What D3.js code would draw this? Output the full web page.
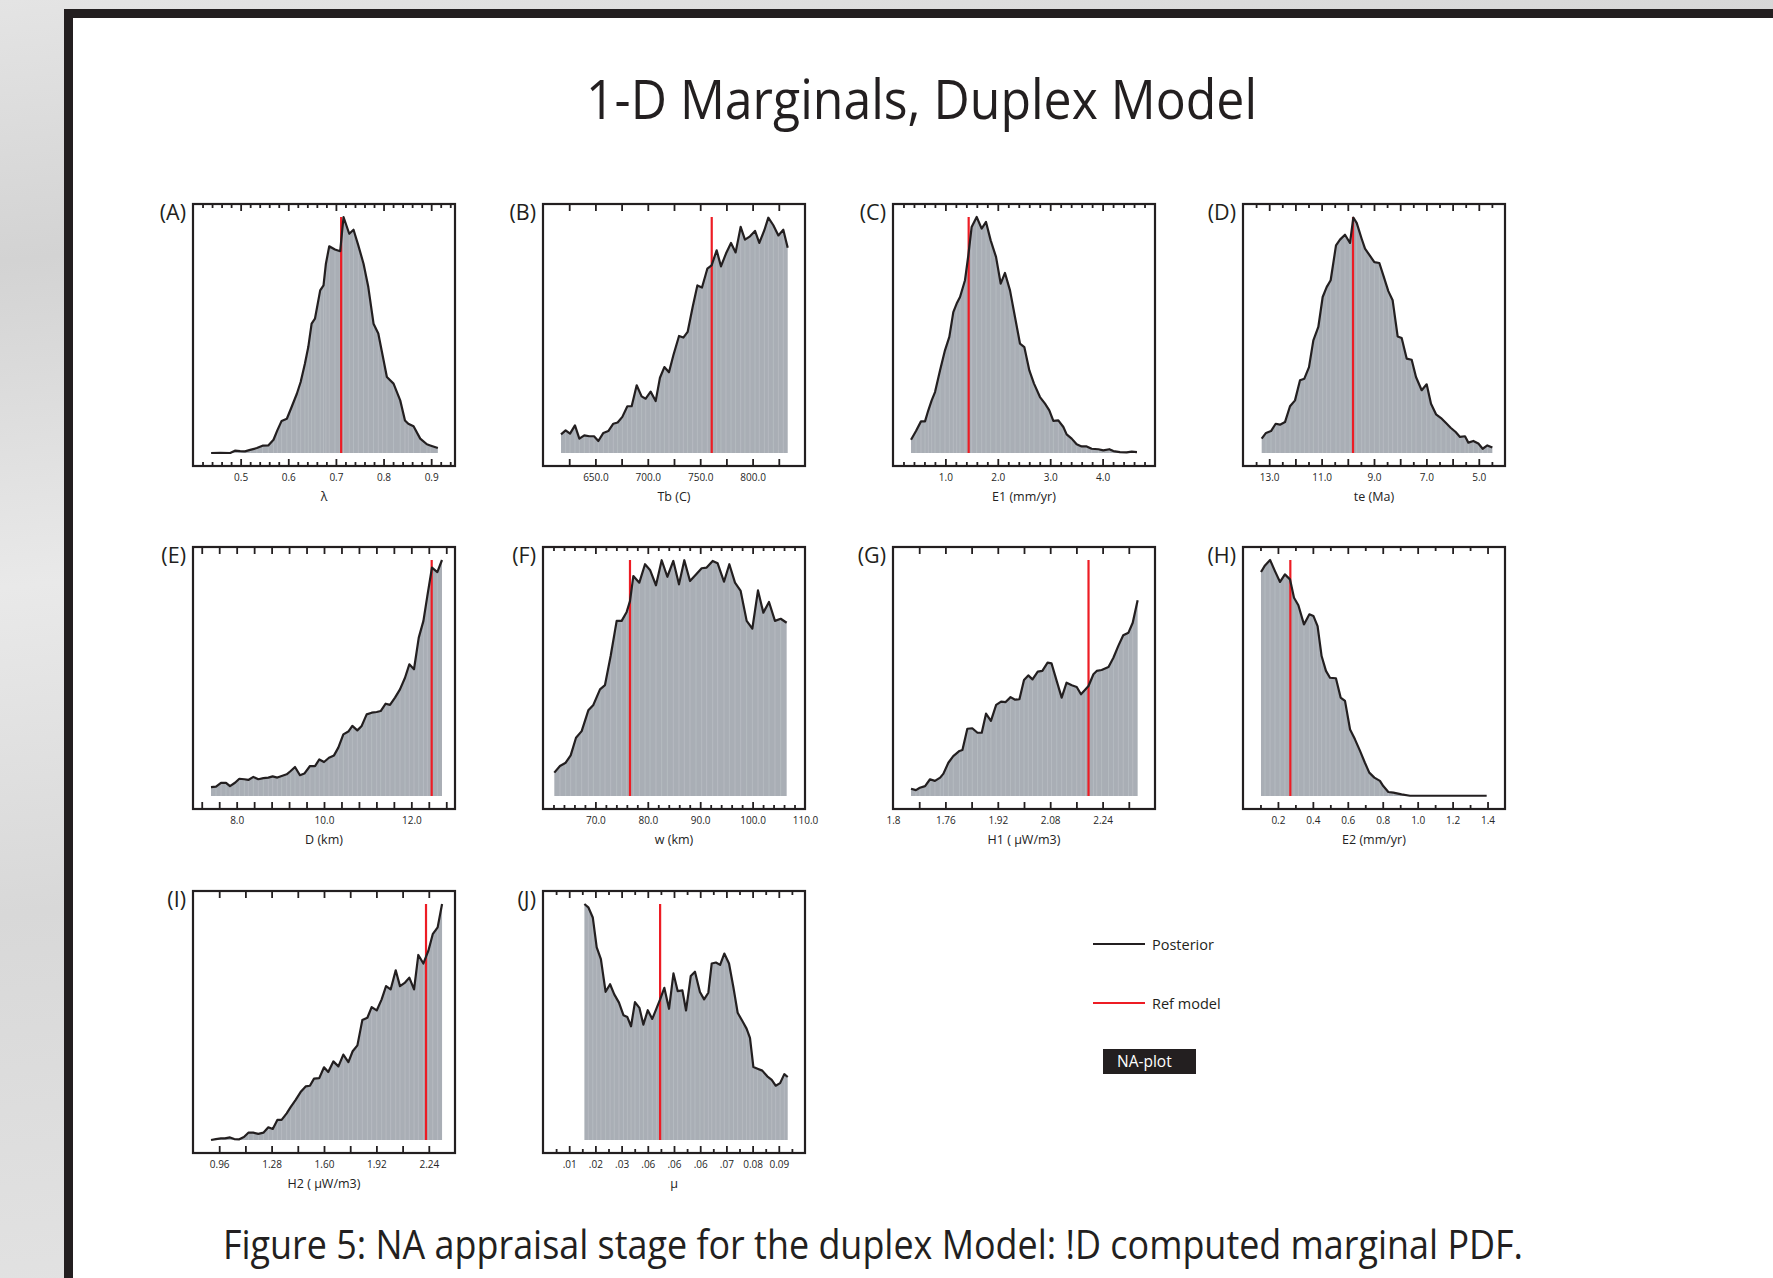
<!DOCTYPE html>
<html>
<head>
<meta charset="utf-8">
<script src="https://cdn.jsdelivr.net/npm/d3@7"></script>
<style>
body { margin: 0; background: #fff; }
svg { display: block; }
text { font-family: "Open Sans", sans-serif; }
</style>
</head>
<body>
<div id="wrapper"></div>
<script>
// posterior marginals, [parameter value, normalised density]
const postA = [[0.438,0.000],[0.457,0.001],[0.478,0.000],[0.488,0.010],[0.499,0.008],[0.509,0.007],[0.520,0.013],[0.534,0.021],[0.546,0.031],[0.558,0.032],[0.569,0.056],[0.577,0.096],[0.586,0.136],[0.597,0.145],[0.607,0.195],[0.618,0.251],[0.626,0.301],[0.635,0.379],[0.642,0.449],[0.649,0.548],[0.656,0.569],[0.667,0.689],[0.674,0.710],[0.679,0.802],[0.686,0.876],[0.698,0.862],[0.709,0.855],[0.716,1.000],[0.728,0.929],[0.737,0.946],[0.747,0.880],[0.758,0.802],[0.768,0.703],[0.779,0.548],[0.789,0.506],[0.798,0.414],[0.807,0.322],[0.821,0.294],[0.835,0.223],[0.845,0.138],[0.852,0.124],[0.863,0.113],[0.877,0.061],[0.891,0.037],[0.898,0.032],[0.914,0.021]];
const postB = [[617.2,0.079],[621.6,0.096],[625.8,0.082],[630.5,0.117],[634.7,0.061],[639.4,0.075],[644.2,0.071],[648.7,0.071],[652.8,0.051],[657.6,0.085],[662.3,0.093],[667.1,0.124],[671.2,0.129],[675.7,0.153],[680.5,0.198],[684.6,0.198],[689.4,0.287],[694.1,0.240],[698.0,0.230],[702.7,0.260],[707.5,0.220],[711.6,0.319],[715.8,0.364],[720.2,0.342],[724.4,0.414],[729.8,0.496],[733.9,0.489],[738.0,0.513],[742.8,0.619],[747.3,0.710],[751.7,0.701],[756.8,0.781],[760.9,0.795],[765.7,0.859],[769.8,0.791],[774.6,0.845],[779.4,0.890],[783.8,0.850],[788.6,0.958],[792.7,0.904],[797.5,0.918],[802.3,0.941],[806.4,0.890],[811.2,0.944],[815.0,0.997],[819.8,0.965],[824.6,0.922],[829.3,0.946],[833.5,0.870]];
const postC = [[0.344,0.056],[0.439,0.093],[0.534,0.134],[0.611,0.134],[0.674,0.181],[0.738,0.223],[0.802,0.258],[0.897,0.350],[0.992,0.435],[1.075,0.492],[1.151,0.597],[1.215,0.633],[1.279,0.661],[1.374,0.732],[1.438,0.838],[1.501,0.958],[1.597,1.000],[1.692,0.951],[1.775,0.979],[1.864,0.901],[1.966,0.831],[2.055,0.718],[2.137,0.763],[2.233,0.689],[2.328,0.576],[2.424,0.463],[2.506,0.449],[2.602,0.350],[2.691,0.294],[2.805,0.237],[2.901,0.209],[2.983,0.181],[3.060,0.136],[3.155,0.138],[3.251,0.110],[3.314,0.079],[3.410,0.061],[3.505,0.037],[3.600,0.028],[3.696,0.028],[3.791,0.018],[3.919,0.016],[4.014,0.011],[4.128,0.016],[4.205,0.008],[4.332,0.004],[4.459,0.003],[4.555,0.006],[4.656,0.004]];
const postD = [[13.287,0.061],[13.122,0.085],[12.931,0.093],[12.753,0.124],[12.588,0.120],[12.397,0.131],[12.206,0.198],[12.015,0.223],[11.824,0.308],[11.659,0.315],[11.481,0.364],[11.315,0.477],[11.125,0.534],[10.959,0.661],[10.807,0.703],[10.654,0.732],[10.450,0.880],[10.298,0.904],[10.107,0.925],[9.916,0.890],[9.789,0.997],[9.661,0.975],[9.471,0.908],[9.343,0.866],[9.178,0.840],[8.987,0.809],[8.796,0.805],[8.644,0.753],[8.453,0.686],[8.288,0.647],[8.097,0.494],[7.944,0.487],[7.753,0.400],[7.562,0.395],[7.397,0.322],[7.180,0.266],[6.990,0.291],[6.824,0.209],[6.633,0.164],[6.442,0.148],[6.251,0.127],[6.074,0.107],[5.883,0.089],[5.717,0.068],[5.527,0.071],[5.399,0.044],[5.208,0.051],[5.017,0.040],[4.852,0.018],[4.674,0.032],[4.483,0.023]];
const postE = [[7.412,0.038],[7.527,0.040],[7.641,0.056],[7.756,0.056],[7.847,0.042],[7.962,0.056],[8.061,0.073],[8.176,0.071],[8.267,0.068],[8.382,0.081],[8.496,0.071],[8.611,0.076],[8.725,0.078],[8.824,0.083],[8.931,0.078],[9.031,0.085],[9.145,0.092],[9.237,0.106],[9.336,0.123],[9.450,0.088],[9.550,0.095],[9.679,0.127],[9.794,0.127],[9.893,0.155],[10.000,0.144],[10.114,0.162],[10.229,0.172],[10.328,0.205],[10.443,0.261],[10.557,0.273],[10.649,0.297],[10.763,0.278],[10.863,0.297],[10.977,0.346],[11.092,0.353],[11.206,0.356],[11.298,0.360],[11.412,0.391],[11.511,0.386],[11.626,0.417],[11.740,0.452],[11.855,0.501],[11.954,0.558],[12.061,0.537],[12.170,0.671],[12.277,0.742],[12.366,0.847],[12.473,0.968],[12.595,0.949],[12.702,1.000]];
const postF = [[62.16,0.099],[63.24,0.127],[64.33,0.141],[65.28,0.172],[66.30,0.247],[67.38,0.275],[68.65,0.363],[69.61,0.386],[70.88,0.452],[71.83,0.470],[72.91,0.593],[74.06,0.742],[75.01,0.742],[75.97,0.780],[76.60,0.826],[77.24,0.932],[78.38,0.904],[79.47,0.982],[80.42,0.958],[81.56,0.893],[82.65,0.999],[83.73,0.929],[84.87,0.996],[85.95,0.897],[86.97,0.999],[88.05,0.911],[89.20,0.939],[90.28,0.965],[91.23,0.968],[92.38,0.996],[93.33,0.986],[94.54,0.908],[95.56,0.982],[96.64,0.904],[97.72,0.869],[98.87,0.742],[99.95,0.709],[101.03,0.871],[102.05,0.777],[103.13,0.822],[104.27,0.742],[105.36,0.751],[106.50,0.734]];
const postG = [[1.655,0.031],[1.670,0.025],[1.682,0.035],[1.698,0.042],[1.713,0.071],[1.728,0.064],[1.744,0.078],[1.754,0.095],[1.769,0.141],[1.784,0.169],[1.803,0.191],[1.812,0.195],[1.827,0.285],[1.842,0.287],[1.858,0.268],[1.871,0.268],[1.884,0.349],[1.899,0.318],[1.915,0.386],[1.930,0.400],[1.944,0.398],[1.959,0.419],[1.973,0.408],[1.986,0.410],[2.000,0.492],[2.013,0.511],[2.026,0.494],[2.042,0.527],[2.056,0.530],[2.072,0.565],[2.084,0.562],[2.100,0.487],[2.115,0.417],[2.130,0.480],[2.146,0.469],[2.161,0.462],[2.174,0.431],[2.188,0.452],[2.197,0.466],[2.212,0.516],[2.222,0.530],[2.237,0.534],[2.258,0.547],[2.273,0.586],[2.288,0.636],[2.303,0.681],[2.319,0.692],[2.332,0.734],[2.347,0.829]];
const postH = [[0.103,0.949],[0.126,0.977],[0.155,1.000],[0.183,0.953],[0.212,0.907],[0.240,0.939],[0.269,0.918],[0.292,0.840],[0.317,0.808],[0.349,0.727],[0.380,0.770],[0.403,0.763],[0.427,0.720],[0.450,0.593],[0.475,0.530],[0.498,0.501],[0.532,0.499],[0.559,0.417],[0.584,0.403],[0.613,0.282],[0.641,0.240],[0.670,0.191],[0.698,0.141],[0.723,0.099],[0.752,0.078],[0.784,0.064],[0.803,0.042],[0.832,0.017],[0.861,0.014],[0.908,0.007],[0.956,0.001],[1.052,0.001],[1.147,0.001],[1.242,0.001],[1.338,0.001],[1.395,0.001]];
const postI = [[0.910,0.000],[0.940,0.004],[0.971,0.007],[0.995,0.007],[1.026,0.011],[1.052,0.004],[1.083,0.003],[1.111,0.013],[1.138,0.031],[1.168,0.031],[1.199,0.026],[1.230,0.031],[1.260,0.054],[1.287,0.047],[1.315,0.085],[1.341,0.085],[1.372,0.113],[1.396,0.139],[1.427,0.170],[1.457,0.203],[1.488,0.227],[1.514,0.230],[1.539,0.260],[1.571,0.262],[1.600,0.308],[1.626,0.288],[1.657,0.333],[1.688,0.312],[1.718,0.362],[1.749,0.330],[1.775,0.376],[1.804,0.401],[1.834,0.508],[1.865,0.518],[1.891,0.563],[1.922,0.549],[1.952,0.596],[1.979,0.652],[2.007,0.638],[2.038,0.719],[2.064,0.652],[2.095,0.667],[2.121,0.688],[2.150,0.638],[2.176,0.784],[2.207,0.748],[2.237,0.801],[2.264,0.872],[2.294,0.901],[2.321,1.000]];
const postJ = [[0.0158,1.000],[0.0173,0.986],[0.0190,0.943],[0.0205,0.816],[0.0221,0.766],[0.0239,0.628],[0.0256,0.660],[0.0272,0.617],[0.0290,0.582],[0.0307,0.529],[0.0322,0.521],[0.0336,0.482],[0.0351,0.584],[0.0368,0.560],[0.0383,0.489],[0.0400,0.550],[0.0417,0.513],[0.0434,0.560],[0.0447,0.596],[0.0463,0.645],[0.0481,0.556],[0.0498,0.706],[0.0514,0.631],[0.0532,0.634],[0.0546,0.549],[0.0564,0.695],[0.0580,0.713],[0.0599,0.627],[0.0615,0.596],[0.0631,0.624],[0.0644,0.748],[0.0660,0.752],[0.0676,0.742],[0.0692,0.790],[0.0710,0.748],[0.0727,0.645],[0.0743,0.539],[0.0761,0.504],[0.0777,0.472],[0.0790,0.433],[0.0803,0.309],[0.0819,0.302],[0.0837,0.294],[0.0856,0.270],[0.0873,0.255],[0.0888,0.230],[0.0905,0.241],[0.0921,0.279],[0.0934,0.267]];

// reference model values (red lines)
const refModel = [0.711, 761, 1.444, 9.80, 12.466, 76.6, 2.197, 0.271, 2.223, 0.0447];

const panelNames = ["(A)", "(B)", "(C)", "(D)", "(E)", "(F)", "(G)", "(H)", "(I)", "(J)"];
const axisTitles = ["λ", "Tb (C)", "E1 (mm/yr)", "te (Ma)", "D (km)", "w (km)", "H1 ( µW/m3)", "E2 (mm/yr)", "H2 ( µW/m3)", "µ"];

// tick labels, [value, text]
const labelsA = [[0.5, "0.5"], [0.6, "0.6"], [0.7, "0.7"], [0.8, "0.8"], [0.9, "0.9"]];
const labelsB = [[650, "650.0"], [700, "700.0"], [750, "750.0"], [800, "800.0"]];
const labelsC = [[1, "1.0"], [2, "2.0"], [3, "3.0"], [4, "4.0"]];
const labelsD = [[13, "13.0"], [11, "11.0"], [9, "9.0"], [7, "7.0"], [5, "5.0"]];
const labelsE = [[8, "8.0"], [10, "10.0"], [12, "12.0"]];
const labelsF = [[70, "70.0"], [80, "80.0"], [90, "90.0"], [100, "100.0"], [110, "110.0"]];
const labelsG = [[1.6, "1.8"], [1.76, "1.76"], [1.92, "1.92"], [2.08, "2.08"], [2.24, "2.24"]];
const labelsH = [[0.2, "0.2"], [0.4, "0.4"], [0.6, "0.6"], [0.8, "0.8"], [1.0, "1.0"], [1.2, "1.2"], [1.4, "1.4"]];
const labelsI = [[0.96, "0.96"], [1.28, "1.28"], [1.6, "1.60"], [1.92, "1.92"], [2.24, "2.24"]];
const labelsJ = [[0.01, ".01"], [0.02, ".02"], [0.03, ".03"], [0.04, ".06"], [0.05, ".06"], [0.06, ".06"], [0.07, ".07"], [0.08, "0.08"], [0.09, "0.09"]];

const legendItems = ["Posterior", "Ref model"];

const W = 1773, H = 1278;
const size = 262;
const colX = [193, 543, 893, 1243];
const rowY = [204, 547, 891];
const ink = "#231f20";
const red = "#ed1c24";

function steps(a, b, s) {
	return d3.range(0, Math.round((b - a) / s) + 1).map((i) => +(a + i * s).toFixed(4));
}

const panels = [
	{ data: postA, dom: [0.4, 0.95], major: steps(0.5, 0.9, 0.1), minor: steps(0.42, 0.94, 0.02), labels: labelsA },
	{ data: postB, dom: [600, 850], major: steps(625, 825, 25), minor: [], labels: labelsB },
	{ data: postC, dom: [0, 5], major: steps(1, 4, 1), minor: steps(0.2, 4.8, 0.2), labels: labelsC },
	{ data: postD, dom: [14, 4], major: steps(5, 13, 1), minor: steps(4.5, 13.5, 1), labels: labelsD },
	{ data: postE, dom: [7, 13], major: steps(7.2, 12.8, 0.4), minor: [], labels: labelsE },
	{ data: postF, dom: [60, 110], major: steps(70, 100, 10), minor: steps(62, 108, 2), labels: labelsF },
	{ data: postG, dom: [1.6, 2.4], major: steps(1.68, 2.32, 0.08), minor: [], labels: labelsG },
	{ data: postH, dom: [0, 1.5], major: steps(0.2, 1.4, 0.2), minor: steps(0.1, 1.4, 0.1), labels: labelsH },
	{ data: postI, dom: [0.8, 2.4], major: steps(0.96, 2.24, 0.16), minor: [], labels: labelsI },
	{ data: postJ, dom: [0, 0.1], major: steps(0.01, 0.09, 0.01), minor: steps(0.005, 0.095, 0.01), labels: labelsJ },
];

const svg = d3.select("#wrapper").append("svg").attr("width", W).attr("height", H);

// textured grey backdrop and the dark page border
const defs = svg.append("defs");
const grad = defs.append("linearGradient").attr("id", "bg").attr("x1", 0).attr("y1", 0).attr("x2", 0.15).attr("y2", 1);
[["0", "#e4e4e4"], ["0.2", "#d3d3d3"], ["0.45", "#e9e9e9"], ["0.7", "#d8d8d8"], ["1", "#e2e2e2"]].forEach(([o, c]) =>
	grad.append("stop").attr("offset", o).attr("stop-color", c)
);
svg.append("rect").attr("width", W).attr("height", H).attr("fill", "url(#bg)");
svg.append("rect").attr("x", 64).attr("y", 9).attr("width", W - 64).attr("height", H - 9).attr("fill", ink);
svg.append("rect").attr("x", 73).attr("y", 18).attr("width", W - 73).attr("height", H - 18).attr("fill", "#fff");

svg.append("text")
	.attr("x", 586).attr("y", 119)
	.attr("textLength", 671).attr("lengthAdjust", "spacingAndGlyphs")
	.style("font-size", "55px").attr("fill", ink)
	.text("1-D Marginals, Duplex Model");

svg.append("text")
	.attr("x", 223).attr("y", 1259)
	.attr("textLength", 1300).attr("lengthAdjust", "spacingAndGlyphs")
	.style("font-size", "40px").attr("fill", ink)
	.text("Figure 5: NA appraisal stage for the duplex Model: !D computed marginal PDF.");

panels.forEach((p, i) => {
	const left = colX[i % 4];
	const top = rowY[Math.floor(i / 4)];
	const g = svg.append("g").attr("transform", `translate(${left},${top})`);

	const x = d3.scaleLinear().domain(p.dom).range([0, size]);
	const y = d3.scaleLinear().domain([0, 1]).range([size - 13, 13]);

	const area = d3.area().x((d) => x(d[0])).y0(y(0)).y1((d) => y(d[1]));
	const line = d3.line().x((d) => x(d[0])).y((d) => y(d[1]));

	g.append("path").attr("d", area(p.data)).attr("fill", "#a9aeb5");

	// light bin separators inside the filled area
	g.selectAll(".bin")
		.data(p.data.slice(1, -1))
		.enter()
		.append("line")
		.attr("x1", (d) => x(d[0])).attr("x2", (d) => x(d[0]))
		.attr("y1", y(0)).attr("y2", (d) => y(d[1]))
		.attr("stroke", "#bec2c8").attr("stroke-width", 0.6);

	g.append("line")
		.attr("x1", x(refModel[i])).attr("x2", x(refModel[i]))
		.attr("y1", y(0)).attr("y2", y(1))
		.attr("stroke", red).attr("stroke-width", 2.2);

	g.append("path").attr("d", line(p.data))
		.attr("fill", "none").attr("stroke", ink)
		.attr("stroke-width", 2.2).attr("stroke-linejoin", "round");

	// inward ticks on top and bottom edges
	const tickSets = [
		[p.minor.filter((v) => !p.major.includes(v)), 4],
		[p.major, 7],
	];
	tickSets.forEach(([vals, len]) => {
		if (!vals.length) return;
		g.append("g").attr("transform", `translate(0,${size})`)
			.call(d3.axisBottom(x).tickValues(vals).tickSize(-len).tickFormat(""))
			.call((a) => a.select(".domain").remove())
			.call((a) => a.selectAll("line").attr("stroke", ink).attr("stroke-width", 1.8));
		g.append("g")
			.call(d3.axisTop(x).tickValues(vals).tickSize(-len).tickFormat(""))
			.call((a) => a.select(".domain").remove())
			.call((a) => a.selectAll("line").attr("stroke", ink).attr("stroke-width", 1.8));
	});

	const labelMap = new Map(p.labels);
	g.append("g").attr("transform", `translate(0,${size})`)
		.call(d3.axisBottom(x).tickValues(p.labels.map((d) => d[0])).tickSize(0).tickPadding(8)
			.tickFormat((v) => labelMap.get(v)))
		.call((a) => a.select(".domain").remove())
		.call((a) => a.selectAll("text")
			.attr("fill", "#262626")
			.style("font-size", "10px")
			.style("font-family", "'Open Sans', sans-serif"));

	g.append("rect").attr("width", size).attr("height", size)
		.attr("fill", "none").attr("stroke", ink).attr("stroke-width", 2.2);

	g.append("text")
		.attr("x", size / 2).attr("y", size + 35)
		.attr("text-anchor", "middle")
		.style("font-size", "12.5px").attr("fill", "#222")
		.text(axisTitles[i]);

	g.append("text")
		.attr("x", -7).attr("y", 16)
		.attr("text-anchor", "end")
		.style("font-size", "21.5px").attr("fill", ink)
		.text(panelNames[i]);
});

// legend
const legend = svg.append("g");
[[ink, 944], [red, 1003]].forEach(([c, ly], k) => {
	legend.append("line")
		.attr("x1", 1093).attr("x2", 1145).attr("y1", ly).attr("y2", ly)
		.attr("stroke", c).attr("stroke-width", 2);
	legend.append("text")
		.attr("x", 1152).attr("y", ly + 6)
		.style("font-size", "14.5px").attr("fill", ink)
		.text(legendItems[k]);
});
legend.append("rect")
	.attr("x", 1103).attr("y", 1049).attr("width", 93).attr("height", 25)
	.attr("fill", ink);
legend.append("text")
	.attr("x", 1117).attr("y", 1067)
	.style("font-size", "15.5px").attr("fill", "#fff")
	.text("NA-plot");
</script>
</body>
</html>
